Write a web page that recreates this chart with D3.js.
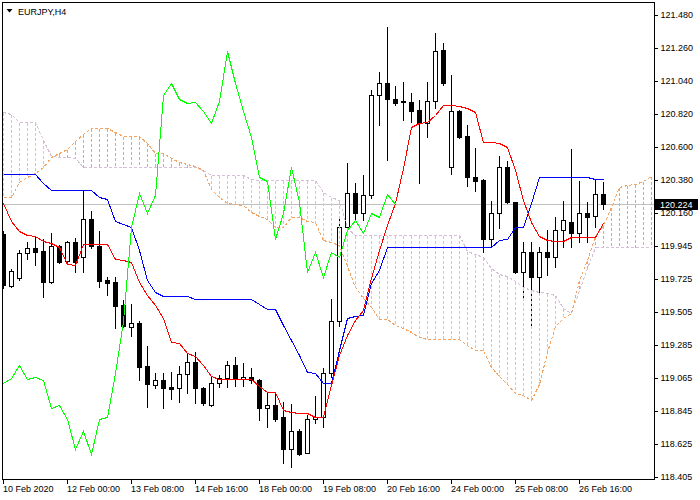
<!DOCTYPE html>
<html><head><meta charset="utf-8">
<script src="https://cdn.jsdelivr.net/npm/d3@7/dist/d3.min.js"></script>
<style>
html,body{margin:0;padding:0;background:#fff;}
svg{display:block;}
text{font-family:"Liberation Sans",Arial,sans-serif;font-size:9px;}
</style></head><body>
<svg id="chart" width="700" height="500"></svg>
<script>
const symbol = "EURJPY,H4";
const timeLabels = ["10 Feb 2020","12 Feb 00:00","13 Feb 08:00","14 Feb 16:00","18 Feb 00:00","19 Feb 08:00","20 Feb 16:00","24 Feb 00:00","25 Feb 08:00","26 Feb 16:00"];
const timeTickBars = [0,8,16,24,32,40,48,56,64,72];
const priceLabels = ["121.480","121.260","121.040","120.820","120.600","120.380","120.160","119.945","119.725","119.505","119.285","119.065","118.845","118.625","118.405"];
const lastPrice = 120.224;

const open = [120.024,119.678,119.731,119.898,119.931,119.911,119.705,119.944,119.844,119.971,
119.871,120.124,119.944,119.718,119.705,119.552,119.405,119.431,119.145,119.018,
119.051,119.004,118.998,119.091,119.172,118.998,118.885,119.031,119.065,119.152,
119.058,119.071,119.051,118.865,118.885,118.805,118.591,118.711,118.565,118.791,
118.805,119.098,119.445,120.071,120.298,120.164,120.284,120.950,121.030,120.924,
120.910,120.904,120.850,120.764,120.910,121.250,120.470,120.844,120.677,120.404,
120.384,119.991,120.164,120.470,120.238,119.771,119.905,119.737,119.905,119.871,
120.051,120.104,120.031,120.164,120.144,120.291];
const high = [120.044,119.791,119.918,119.971,120.011,119.991,120.031,119.951,119.977,119.998,
120.317,120.177,120.044,119.737,119.737,119.585,119.558,119.445,119.278,119.098,
119.098,119.105,119.145,119.231,119.238,119.004,119.071,119.085,119.178,119.205,
119.165,119.132,119.058,118.965,118.965,118.905,118.891,118.725,118.818,118.945,
119.132,119.591,120.131,120.497,120.364,120.417,120.983,121.104,121.403,121.010,
121.037,120.964,120.917,121.037,121.363,121.297,121.083,120.850,120.750,120.597,
120.390,120.244,120.544,120.510,120.238,119.971,119.971,119.938,120.051,120.137,
120.244,120.590,120.377,120.238,120.390,120.370];
const low = [119.665,119.671,119.718,119.858,119.818,119.604,119.698,119.831,119.838,119.771,
119.771,119.931,119.671,119.618,119.398,119.405,119.345,119.051,118.871,118.998,
118.865,118.925,118.905,118.965,118.898,118.885,118.878,119.004,119.004,119.011,
119.011,119.031,118.785,118.738,118.778,118.498,118.471,118.551,118.565,118.765,
118.738,119.071,119.411,120.064,120.117,120.117,120.264,120.750,120.517,120.884,
120.784,120.771,120.364,120.670,120.864,121.017,120.424,120.664,120.344,120.311,
119.904,119.938,120.064,120.231,119.764,119.604,119.411,119.618,119.751,119.804,
119.938,119.938,119.971,119.971,120.071,120.191];
const close = [119.685,119.777,119.898,119.931,119.905,119.705,119.944,119.838,119.971,119.838,
120.124,119.944,119.711,119.698,119.545,119.411,119.431,119.138,119.024,119.051,
118.998,118.991,119.091,119.172,118.998,118.898,119.031,119.065,119.152,119.058,
119.071,119.051,118.865,118.885,118.791,118.591,118.711,118.558,118.791,118.805,
119.098,119.445,120.071,120.298,120.164,120.284,120.950,121.030,120.924,120.897,
120.904,120.844,120.764,120.910,121.243,121.030,120.844,120.670,120.404,120.377,
119.991,120.164,120.470,120.238,119.771,119.905,119.737,119.905,119.871,120.051,
120.117,120.031,120.164,120.137,120.291,120.224];

const tenkan = [120.231,120.111,120.044,120.018,120.011,119.977,119.964,119.938,119.824,119.818,
119.958,119.958,119.958,119.958,119.858,119.851,119.838,119.705,119.618,119.552,
119.464,119.305,119.298,119.231,119.211,119.152,119.078,119.058,119.058,119.058,
119.058,119.058,119.011,118.971,118.971,118.851,118.838,118.831,118.831,118.805,
118.805,119.018,119.218,119.351,119.451,119.518,119.731,119.918,120.084,120.231,
120.464,120.737,120.764,120.770,120.817,120.884,120.884,120.877,120.864,120.837,
120.637,120.637,120.630,120.604,120.450,120.251,120.104,120.011,119.984,119.977,
119.977,120.004,120.004,120.004,120.004,120.097];
const kijun = [120.424,120.424,120.424,120.424,120.424,120.364,120.317,120.317,120.317,120.317,
120.317,120.317,120.271,120.257,120.111,120.091,120.071,119.918,119.718,119.638,
119.611,119.611,119.611,119.611,119.591,119.591,119.591,119.591,119.591,119.591,
119.591,119.591,119.558,119.525,119.525,119.418,119.318,119.218,119.105,119.098,
119.031,119.031,119.251,119.464,119.478,119.485,119.698,119.784,119.938,119.938,
119.938,119.938,119.938,119.938,119.938,119.938,119.938,119.938,119.938,119.938,
119.938,119.938,119.984,119.991,120.071,120.071,120.231,120.404,120.404,120.404,
120.404,120.404,120.404,120.404,120.390,120.390];
const chikou = [119.031,119.065,119.152,119.058,119.071,119.051,118.865,118.885,118.791,118.591,
118.711,118.558,118.791,118.805,119.098,119.445,120.071,120.298,120.164,120.284,
120.950,121.030,120.924,120.897,120.904,120.844,120.764,120.910,121.243,121.030,
120.844,120.670,120.404,120.377,119.991,120.164,120.470,120.238,119.771,119.905,
119.737,119.905,119.871,120.051,120.117,120.031,120.164,120.137,120.291,120.224];
const spanA = [120.271,120.271,120.371,120.404,120.430,120.470,120.537,120.564,120.590,120.643,
120.690,120.731,120.731,120.731,120.704,120.677,120.677,120.677,120.630,120.564,
120.564,120.531,120.504,120.491,120.477,120.450,120.327,120.268,120.234,120.221,
120.218,120.171,120.141,120.127,120.071,120.068,120.137,120.137,120.114,120.107,
119.984,119.971,119.954,119.811,119.668,119.595,119.538,119.458,119.455,119.421,
119.401,119.371,119.335,119.325,119.325,119.325,119.325,119.325,119.285,119.248,
119.248,119.135,119.078,119.024,118.968,118.951,118.918,119.024,119.235,119.408,
119.465,119.501,119.715,119.851,120.011,120.084,120.201,120.337,120.351,120.354,
120.377,120.410];
const spanB = [120.837,120.824,120.771,120.771,120.771,120.650,120.544,120.537,120.537,120.531,
120.470,120.470,120.470,120.470,120.470,120.470,120.470,120.470,120.470,120.470,
120.470,120.470,120.470,120.470,120.470,120.450,120.417,120.417,120.417,120.417,
120.417,120.390,120.384,120.384,120.384,120.384,120.384,120.384,120.384,120.384,
120.304,120.271,120.251,120.064,120.018,120.018,120.018,120.018,120.018,120.018,
120.018,120.018,120.018,120.018,120.018,120.018,120.018,120.018,119.911,119.891,
119.871,119.798,119.758,119.744,119.711,119.671,119.651,119.638,119.631,119.618,
119.531,119.498,119.651,119.798,119.938,119.938,119.938,119.938,119.938,119.938,
119.938,119.938];

const svg = d3.select("#chart");
svg.append("rect").attr("width",700).attr("height",500).attr("fill","#fff");

const y = d3.scaleLinear().domain([118.405,121.480]).range([477,15.5]);
const x = d3.scaleLinear().domain([0,81]).range([3,651]);
const px = i => x(i) + 0.5;
const row = v => Math.round(y(v));
const py = v => row(v) + 0.5;

svg.append("defs").append("clipPath").attr("id","plot")
  .append("rect").attr("x",3).attr("y",3).attr("width",651).attr("height",476);
const g = svg.append("g").attr("clip-path","url(#plot)").attr("shape-rendering","crispEdges");

// current price line
g.append("line").attr("x1",3).attr("x2",654)
  .attr("y1",py(lastPrice)).attr("y2",py(lastPrice)).attr("stroke","#c0c0c0");

// candles
const bars = d3.range(open.length);
const cg = g.append("g");
cg.selectAll("line.wick").data(bars).join("line").attr("class","wick")
  .attr("x1",px).attr("x2",px)
  .attr("y1",i=>row(high[i])).attr("y2",i=>row(low[i])+1)
  .attr("stroke","#000");
cg.selectAll("rect.body").data(bars.filter(i=>row(open[i])!==row(close[i]))).join("rect").attr("class","body")
  .attr("x",i=>px(i)-2).attr("width",4)
  .attr("y",i=>Math.min(row(open[i]),row(close[i]))+0.5)
  .attr("height",i=>Math.abs(row(open[i])-row(close[i])))
  .attr("fill",i=>close[i]>open[i]?"#fff":"#000").attr("stroke","#000");
cg.selectAll("line.doji").data(bars.filter(i=>row(open[i])===row(close[i]))).join("line").attr("class","doji")
  .attr("x1",i=>px(i)-2.5).attr("x2",i=>px(i)+2.5)
  .attr("y1",i=>py(close[i])).attr("y2",i=>py(close[i])).attr("stroke","#000");

// cloud
const SAND = "#F4A460", THISTLE = "#D8BFD8", DASH = "3,2";
const sIdx = d3.range(spanA.length);
g.append("g").selectAll("line").data(sIdx).join("line")
  .attr("x1",px).attr("x2",px)
  .attr("y1",i=>py(Math.max(spanA[i],spanB[i]))).attr("y2",i=>py(Math.min(spanA[i],spanB[i])))
  .attr("stroke",i=>spanA[i]>=spanB[i]?SAND:THISTLE).attr("stroke-dasharray",DASH);
const line = d3.line().x((d,i)=>px(i)).y(d=>py(d));
g.append("path").attr("d",line(spanB)).attr("fill","none").attr("stroke",THISTLE).attr("stroke-dasharray",DASH);
g.append("path").attr("d",line(spanA)).attr("fill","none").attr("stroke",SAND).attr("stroke-dasharray",DASH);

// lines
g.append("path").attr("d",line(kijun)).attr("fill","none").attr("stroke","#0000ff");
g.append("path").attr("d",line(tenkan)).attr("fill","none").attr("stroke","#ff0000");
g.append("path").attr("d",line(chikou)).attr("fill","none").attr("stroke","#00ff00");

// frame
svg.append("rect").attr("x",2.5).attr("y",2.5).attr("width",652).attr("height",477)
  .attr("fill","none").attr("stroke","#000").attr("shape-rendering","crispEdges");

// right price axis
const yTicks = d3.range(priceLabels.length).map(k => 121.480 - k*(121.480-118.405)/(priceLabels.length-1));
const yAxisScale = y.copy().range([476.5,15]);
const ya = svg.append("g").attr("transform","translate(654.5,0)")
  .call(d3.axisRight(yAxisScale).tickValues(yTicks).tickSize(3).tickPadding(3).tickFormat((d,i)=>priceLabels[i]));
ya.select(".domain").remove();
ya.selectAll("line").attr("stroke","#000").attr("shape-rendering","crispEdges");
ya.selectAll("text").attr("fill","#000").style("font-size","9px").style("font-family","'Liberation Sans',Arial,sans-serif");

// bottom time axis
const xa = svg.append("g").attr("transform","translate(0,479.5)")
  .call(d3.axisBottom(x).tickValues(timeTickBars).tickSize(4).tickFormat((d,i)=>timeLabels[i]));
xa.select(".domain").remove();
xa.selectAll("line").attr("stroke","#000").attr("shape-rendering","crispEdges");
xa.selectAll("text").attr("text-anchor","start").attr("x",-0.5).attr("y",6.5)
  .attr("fill","#000").style("font-size","9px").style("font-family","'Liberation Sans',Arial,sans-serif");

// last price tag
const lr = row(lastPrice);
svg.append("rect").attr("x",655).attr("y",lr-5).attr("width",43).attr("height",11).attr("fill","#000");
svg.append("text").attr("x",660).attr("y",lr+3.5).attr("fill","#fff").text(d3.format(".3f")(lastPrice));

// title
svg.append("path").attr("d","M6.5,9 L12.5,9 L9.5,12.5 Z").attr("fill","#000");
svg.append("text").attr("x",18).attr("y",14.5).attr("fill","#000").text(symbol);
</script>
</body></html>
